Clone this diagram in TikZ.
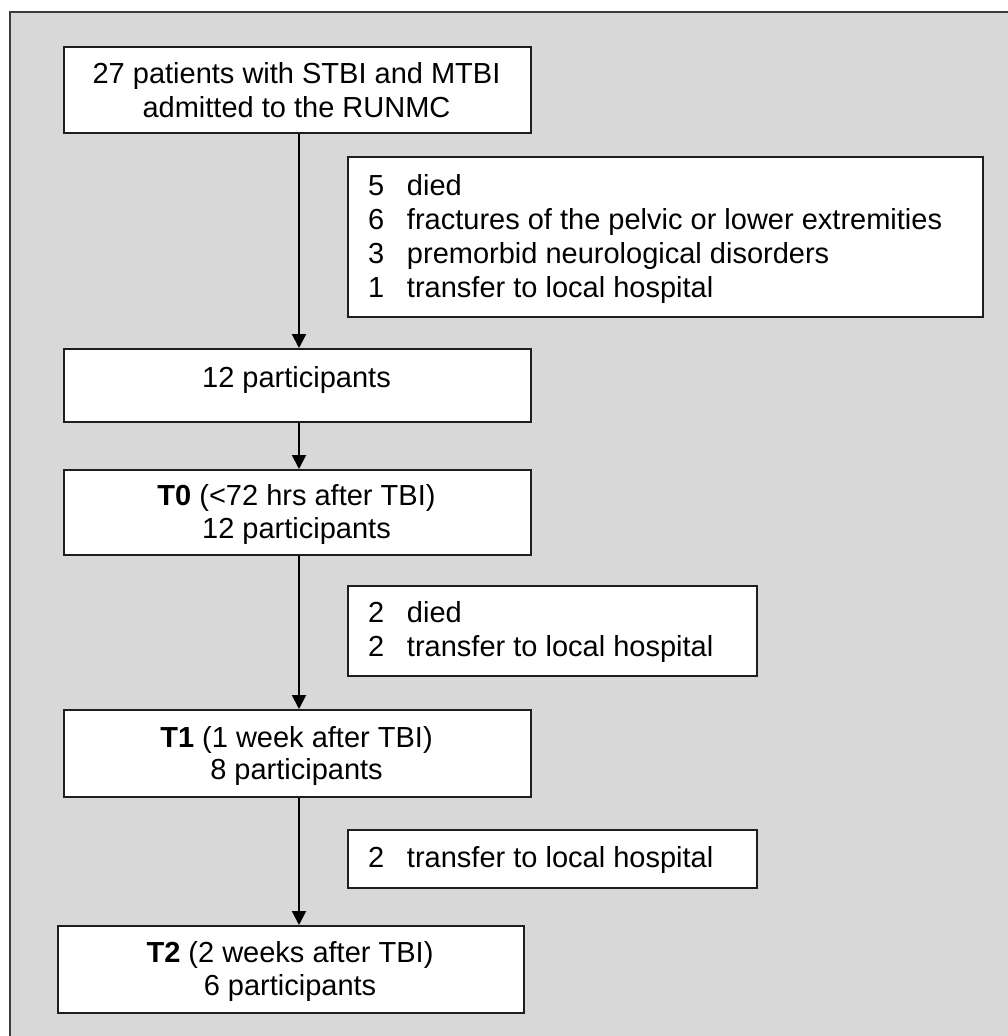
\documentclass[tikz,border=0pt]{standalone}
\usepackage{fontspec}
\setmainfont{Liberation Sans}
\usetikzlibrary{arrows.meta}
\definecolor{bgGray}{RGB}{216,216,216}
\definecolor{frameGray}{RGB}{60,60,60}
\definecolor{boxLine}{RGB}{30,30,30}
\tikzset{
  flowbox/.style={draw=boxLine, line width=2pt, fill=white, rectangle, anchor=north west, inner sep=0pt},
  txt/.style={anchor=base, inner sep=0pt, outer sep=0pt},
  txtl/.style={anchor=base west, inner sep=0pt, outer sep=0pt},
  flowarrow/.style={line width=2pt, draw=black, -{Triangle[length=14pt,width=14pt]}}
}
\newcommand{\numitem}[2]{\makebox[39pt][l]{#1}#2}
\begin{document}
\begin{tikzpicture}[x=1pt,y=-1pt,font=\fontsize{29pt}{34pt}\selectfont]
\useasboundingbox (0,0) rectangle (1008,1036);
\clip (0,0) rectangle (1008,1036);
\fill[white] (0,0) rectangle (1008,1036);
\draw[draw=frameGray, line width=2pt, fill=bgGray] (10,12) rectangle (1040,1070);

% boxes
\node[flowbox, minimum width=467pt, minimum height=86pt] (b1) at (63,46) {};
\node[flowbox, minimum width=635pt, minimum height=160pt] (b2) at (347,156) {};
\node[flowbox, minimum width=467pt, minimum height=73pt] (b3) at (63,348) {};
\node[flowbox, minimum width=467pt, minimum height=85pt] (b4) at (63,469) {};
\node[flowbox, minimum width=409pt, minimum height=90pt] (b5) at (347,585) {};
\node[flowbox, minimum width=467pt, minimum height=87pt] (b6) at (63,709) {};
\node[flowbox, minimum width=409pt, minimum height=58pt] (b7) at (347,829) {};
\node[flowbox, minimum width=466pt, minimum height=87pt] (b8) at (57,925) {};

% texts
\node[txt] (t1a) at (296.5,83) {27 patients with STBI and MTBI};
\node[txt] (t1b) at (296.5,117) {admitted to the RUNMC};

\node[txtl] (t2a) at (368,195) {\numitem{5}{died}};
\node[txtl] (t2b) at (368,229) {\numitem{6}{fractures of the pelvic or lower extremities}};
\node[txtl] (t2c) at (368,263) {\numitem{3}{premorbid neurological disorders}};
\node[txtl] (t2d) at (368,297) {\numitem{1}{transfer to local hospital}};

\node[txt] (t3a) at (296.5,387) {12 participants};

\node[txt] (t4a) at (296.5,505) {\textbf{T0} (<72 hrs after TBI)};
\node[txt] (t4b) at (296.5,538) {12 participants};

\node[txtl] (t5a) at (368,622) {\numitem{2}{died}};
\node[txtl] (t5b) at (368,656) {\numitem{2}{transfer to local hospital}};

\node[txt] (t6a) at (296.5,747) {\textbf{T1} (1 week after TBI)};
\node[txt] (t6b) at (296.5,779) {8 participants};

\node[txtl] (t7a) at (368,867) {\numitem{2}{transfer to local hospital}};

\node[txt] (t8a) at (290,962) {\textbf{T2} (2 weeks after TBI)};
\node[txt] (t8b) at (290,995) {6 participants};

% connectors
\coordinate (ax) at (299,0);
\draw[flowarrow] (b1.south -| ax) -- (b3.north -| ax);
\draw[flowarrow] (b3.south -| ax) -- (b4.north -| ax);
\draw[flowarrow] (b4.south -| ax) -- (b6.north -| ax);
\draw[flowarrow] (b6.south -| ax) -- (b8.north -| ax);
\end{tikzpicture}
\end{document}
